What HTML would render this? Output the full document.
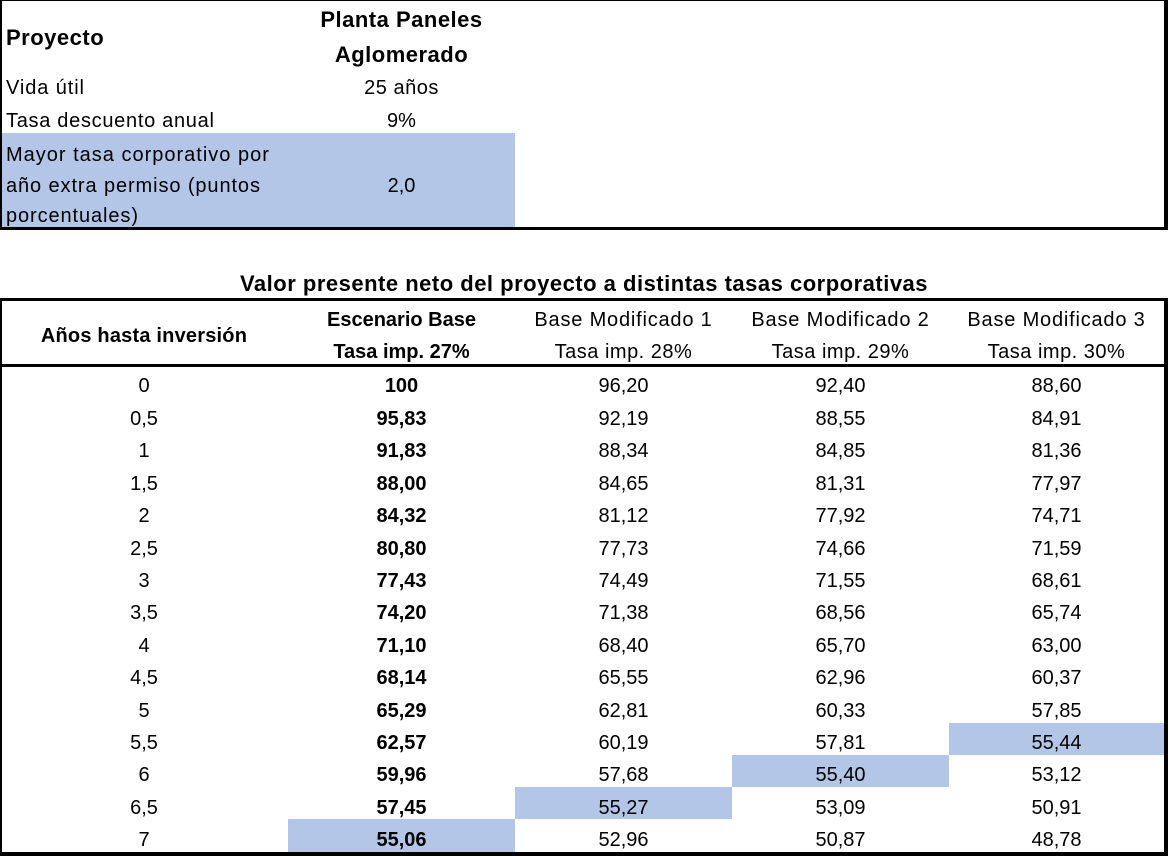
<!DOCTYPE html>
<html>
<head>
<meta charset="utf-8">
<style>
html,body{margin:0;padding:0;background:#fff;}
body{width:1168px;height:856px;position:relative;overflow:hidden;font-family:"Liberation Sans",Arial,sans-serif;font-size:20px;color:#000;}
.t{position:absolute;height:20px;line-height:20px;white-space:nowrap;}
.c{text-align:center;}
.b{font-weight:bold;}
.big{font-size:22px;letter-spacing:0.5px;height:22px;line-height:22px;}
.box{position:absolute;box-sizing:border-box;border-style:solid;border-color:#000;}
.blue{position:absolute;background:#B4C6E7;}
.hr{position:absolute;background:#000;}
</style>
</head>
<body>
<!-- top box -->
<div class="blue" style="left:2px;top:133px;width:513px;height:94px;"></div>
<div class="box" style="left:0;top:0;width:1168px;height:230px;border-width:1px 4px 3px 2px;"></div>

<div class="t b big" style="left:6px;top:27px;">Proyecto</div>
<div class="t b c big" style="left:288px;width:227px;top:9px;">Planta Paneles</div>
<div class="t b c big" style="left:288px;width:227px;top:44px;">Aglomerado</div>

<div class="t" style="left:6px;top:78px;letter-spacing:0.9px;">Vida útil</div>
<div class="t c" style="left:288px;width:227px;top:78px;letter-spacing:0.5px;">25 años</div>
<div class="t" style="left:6px;top:111px;letter-spacing:0.7px;">Tasa descuento anual</div>
<div class="t c" style="left:288px;width:227px;top:111px;">9%</div>
<div class="t" style="left:6px;top:145px;letter-spacing:1px;">Mayor tasa corporativo por</div>
<div class="t" style="left:6px;top:176px;letter-spacing:0.9px;">año extra permiso (puntos</div>
<div class="t" style="left:6px;top:206px;letter-spacing:0.9px;">porcentuales)</div>
<div class="t c" style="left:288px;width:227px;top:176px;">2,0</div>

<!-- title -->
<div class="t b c big" style="left:0;width:1168px;top:273px;">Valor presente neto del proyecto a distintas tasas corporativas</div>

<!-- table -->
<div class="blue" style="left:288px;top:819px;width:227px;height:33px;"></div>
<div class="blue" style="left:515px;top:787px;width:217px;height:32px;"></div>
<div class="blue" style="left:732px;top:755px;width:217px;height:32px;"></div>
<div class="blue" style="left:949px;top:723px;width:215px;height:32px;"></div>
<div class="box" style="left:0;top:298px;width:1168px;height:558px;border-width:3px 4px 4px 2px;"></div>
<div class="hr" style="left:0;top:364px;width:1168px;height:3px;"></div>

<div class="t b c" style="left:0;width:288px;top:326px;letter-spacing:0.2px;">Años hasta inversión</div>
<div class="t b c" style="left:288px;width:227px;top:310px;">Escenario Base</div>
<div class="t b c" style="left:288px;width:227px;top:342px;">Tasa imp. 27%</div>
<div class="t c" style="left:515px;width:217px;top:310px;letter-spacing:0.8px;">Base Modificado 1</div>
<div class="t c" style="left:515px;width:217px;top:342px;letter-spacing:0.5px;">Tasa imp. 28%</div>
<div class="t c" style="left:732px;width:217px;top:310px;letter-spacing:0.8px;">Base Modificado 2</div>
<div class="t c" style="left:732px;width:217px;top:342px;letter-spacing:0.5px;">Tasa imp. 29%</div>
<div class="t c" style="left:949px;width:215px;top:310px;letter-spacing:0.8px;">Base Modificado 3</div>
<div class="t c" style="left:949px;width:215px;top:342px;letter-spacing:0.5px;">Tasa imp. 30%</div>

<!-- rows -->
<div class="t c" style="left:0;width:288px;top:376px;">0</div><div class="t c b" style="left:288px;width:227px;top:376px;">100</div><div class="t c" style="left:515px;width:217px;top:376px;">96,20</div><div class="t c" style="left:732px;width:217px;top:376px;">92,40</div><div class="t c" style="left:949px;width:215px;top:376px;">88,60</div>
<div class="t c" style="left:0;width:288px;top:409px;">0,5</div><div class="t c b" style="left:288px;width:227px;top:409px;">95,83</div><div class="t c" style="left:515px;width:217px;top:409px;">92,19</div><div class="t c" style="left:732px;width:217px;top:409px;">88,55</div><div class="t c" style="left:949px;width:215px;top:409px;">84,91</div>
<div class="t c" style="left:0;width:288px;top:441px;">1</div><div class="t c b" style="left:288px;width:227px;top:441px;">91,83</div><div class="t c" style="left:515px;width:217px;top:441px;">88,34</div><div class="t c" style="left:732px;width:217px;top:441px;">84,85</div><div class="t c" style="left:949px;width:215px;top:441px;">81,36</div>
<div class="t c" style="left:0;width:288px;top:474px;">1,5</div><div class="t c b" style="left:288px;width:227px;top:474px;">88,00</div><div class="t c" style="left:515px;width:217px;top:474px;">84,65</div><div class="t c" style="left:732px;width:217px;top:474px;">81,31</div><div class="t c" style="left:949px;width:215px;top:474px;">77,97</div>
<div class="t c" style="left:0;width:288px;top:506px;">2</div><div class="t c b" style="left:288px;width:227px;top:506px;">84,32</div><div class="t c" style="left:515px;width:217px;top:506px;">81,12</div><div class="t c" style="left:732px;width:217px;top:506px;">77,92</div><div class="t c" style="left:949px;width:215px;top:506px;">74,71</div>
<div class="t c" style="left:0;width:288px;top:539px;">2,5</div><div class="t c b" style="left:288px;width:227px;top:539px;">80,80</div><div class="t c" style="left:515px;width:217px;top:539px;">77,73</div><div class="t c" style="left:732px;width:217px;top:539px;">74,66</div><div class="t c" style="left:949px;width:215px;top:539px;">71,59</div>
<div class="t c" style="left:0;width:288px;top:571px;">3</div><div class="t c b" style="left:288px;width:227px;top:571px;">77,43</div><div class="t c" style="left:515px;width:217px;top:571px;">74,49</div><div class="t c" style="left:732px;width:217px;top:571px;">71,55</div><div class="t c" style="left:949px;width:215px;top:571px;">68,61</div>
<div class="t c" style="left:0;width:288px;top:603px;">3,5</div><div class="t c b" style="left:288px;width:227px;top:603px;">74,20</div><div class="t c" style="left:515px;width:217px;top:603px;">71,38</div><div class="t c" style="left:732px;width:217px;top:603px;">68,56</div><div class="t c" style="left:949px;width:215px;top:603px;">65,74</div>
<div class="t c" style="left:0;width:288px;top:636px;">4</div><div class="t c b" style="left:288px;width:227px;top:636px;">71,10</div><div class="t c" style="left:515px;width:217px;top:636px;">68,40</div><div class="t c" style="left:732px;width:217px;top:636px;">65,70</div><div class="t c" style="left:949px;width:215px;top:636px;">63,00</div>
<div class="t c" style="left:0;width:288px;top:668px;">4,5</div><div class="t c b" style="left:288px;width:227px;top:668px;">68,14</div><div class="t c" style="left:515px;width:217px;top:668px;">65,55</div><div class="t c" style="left:732px;width:217px;top:668px;">62,96</div><div class="t c" style="left:949px;width:215px;top:668px;">60,37</div>
<div class="t c" style="left:0;width:288px;top:701px;">5</div><div class="t c b" style="left:288px;width:227px;top:701px;">65,29</div><div class="t c" style="left:515px;width:217px;top:701px;">62,81</div><div class="t c" style="left:732px;width:217px;top:701px;">60,33</div><div class="t c" style="left:949px;width:215px;top:701px;">57,85</div>
<div class="t c" style="left:0;width:288px;top:733px;">5,5</div><div class="t c b" style="left:288px;width:227px;top:733px;">62,57</div><div class="t c" style="left:515px;width:217px;top:733px;">60,19</div><div class="t c" style="left:732px;width:217px;top:733px;">57,81</div><div class="t c" style="left:949px;width:215px;top:733px;">55,44</div>
<div class="t c" style="left:0;width:288px;top:765px;">6</div><div class="t c b" style="left:288px;width:227px;top:765px;">59,96</div><div class="t c" style="left:515px;width:217px;top:765px;">57,68</div><div class="t c" style="left:732px;width:217px;top:765px;">55,40</div><div class="t c" style="left:949px;width:215px;top:765px;">53,12</div>
<div class="t c" style="left:0;width:288px;top:798px;">6,5</div><div class="t c b" style="left:288px;width:227px;top:798px;">57,45</div><div class="t c" style="left:515px;width:217px;top:798px;">55,27</div><div class="t c" style="left:732px;width:217px;top:798px;">53,09</div><div class="t c" style="left:949px;width:215px;top:798px;">50,91</div>
<div class="t c" style="left:0;width:288px;top:830px;">7</div><div class="t c b" style="left:288px;width:227px;top:830px;">55,06</div><div class="t c" style="left:515px;width:217px;top:830px;">52,96</div><div class="t c" style="left:732px;width:217px;top:830px;">50,87</div><div class="t c" style="left:949px;width:215px;top:830px;">48,78</div>
</body>
</html>
